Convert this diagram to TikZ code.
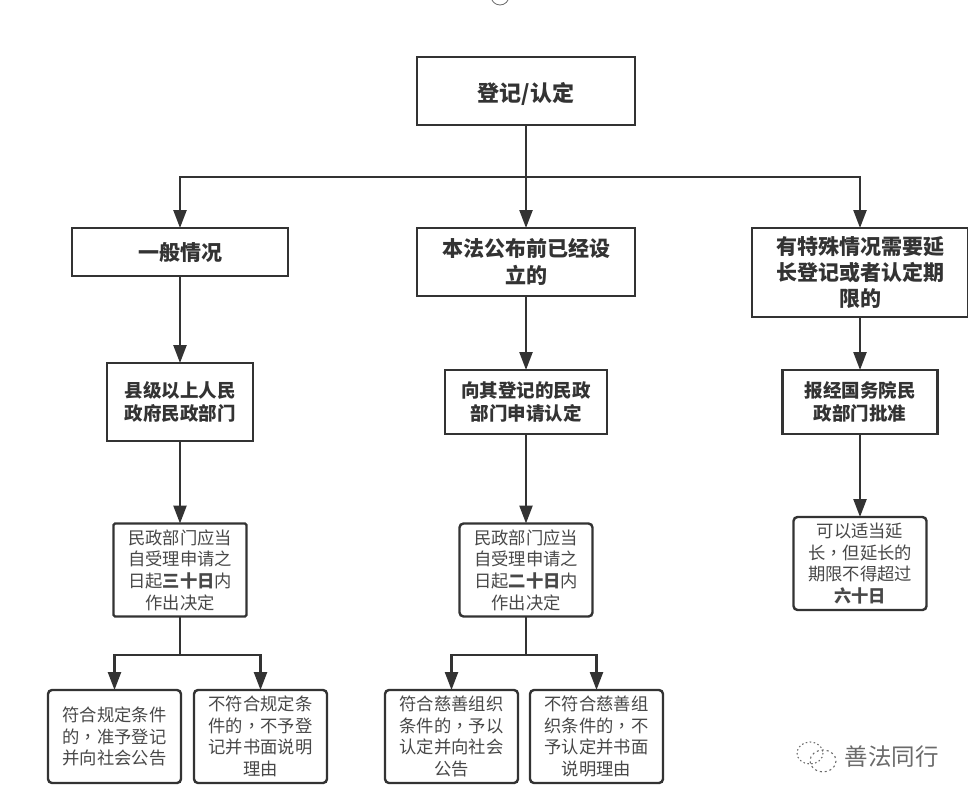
\documentclass[tikz,border=0pt]{standalone}
\usepackage{fontspec}
\setmainfont{Noto Sans CJK SC}
\newfontfamily\tcfont{Noto Sans CJK TC}
\newcommand\cm{{\tcfont ，}}
\usetikzlibrary{arrows.meta}
\definecolor{ink}{HTML}{333333}
\definecolor{txt}{HTML}{484848}
\definecolor{wmgray}{HTML}{6A6A6A}
\tikzset{
  box/.style={draw=ink,line width=2.4pt,fill=white,align=center,inner sep=0pt,outer sep=0pt,text=ink},
  head/.style={box,font=\fontsize{21}{26.3}\selectfont\bfseries},
  mid/.style={box,font=\fontsize{18.5}{22.8}\selectfont\bfseries},
  leaf/.style={box,rounded corners=4pt,text=txt,minimum width=133pt,minimum height=93pt,font=\fontsize{17.3}{21.7}\selectfont,execute at begin node={\vspace*{2pt}}},
  link/.style={draw=ink,line width=2.4pt},
  arrow/.style={link,-{Triangle[length=18pt,width=13pt]}}
}
\begin{document}
\begin{tikzpicture}[x=1pt,y=-1pt]
\useasboundingbox (0,0) rectangle (968,800);
\clip (0,0) rectangle (968,800);
\draw[wmgray,line width=0.8pt] (500,-4) circle (9);
\node[head,minimum width=218pt,minimum height=68pt] (top) at (526,91) {\raisebox{-3pt}[\height][\depth]{\fontsize{22}{26}\selectfont 登记/认定}};
\node[head,minimum width=216pt,minimum height=48pt] (a) at (180,252) {一般情况};
\node[head,minimum width=218pt,minimum height=68pt] (b) at (526,262) {本法公布前已经设\\立的};
\node[head,minimum width=216pt,minimum height=89pt] (c) at (860,272.5) {有特殊情况需要延\\长登记或者认定期\\限的};
\node[mid,minimum width=146pt,minimum height=78pt] (a2) at (180,402) {县级以上人民\\政府民政部门};
\node[mid,minimum width=162pt,minimum height=64pt] (b2) at (526,402) {向其登记的民政\\部门申请认定};
\node[mid,minimum width=155pt,minimum height=64pt] (c2) at (860,402) {报经国务院民\\政部门批准};
\node[leaf,rounded corners=1.5pt] (a3) at (180,570) {民政部门应当\\自受理申请之\\日起\textbf{三十日}内\\作出决定};
\node[leaf] (b3) at (526,570) {民政部门应当\\自受理申请之\\日起\textbf{二十日}内\\作出决定};
\node[leaf] (c3) at (860,563.5) {可以适当延\\长\cm 但延长的\\期限不得超过\\\textbf{六十日}};
\node[leaf] (l1) at (114.5,736.5) {符合规定条件\\的\cm 准予登记\\并向社会公告};
\node[leaf] (l2) at (260.5,736.5) {不符合规定条\\件的\cm 不予登\\记并书面说明\\理由};
\node[leaf] (l3) at (451.5,736.5) {符合慈善组织\\条件的\cm 予以\\认定并向社会\\公告};
\node[leaf] (l4) at (596.5,736.5) {不符合慈善组\\织条件的\cm 不\\予认定并书面\\说明理由};
\coordinate (busA) at (526,177);
\coordinate (busB) at (180,655);
\coordinate (busC) at (526,655);
\draw[link] (top.south) -- (busA);
\draw[arrow] (busA) -| (a.north);
\draw[arrow] (busA) -- (b.north);
\draw[arrow] (busA) -| (c.north);
\draw[arrow] (a.south) -- (a2.north);
\draw[arrow] (b.south) -- (b2.north);
\draw[arrow] (c.south) -- (c2.north);
\draw[arrow] (a2.south) -- (a3.north);
\draw[arrow] (b2.south) -- (b3.north);
\draw[arrow] (c2.south) -- (c3.north);
\draw[link] (a3.south) -- (busB);
\draw[arrow] (busB) -| (l1.north);
\draw[arrow] (busB) -| (l2.north);
\draw[link] (b3.south) -- (busC);
\draw[arrow] (busC) -| (l3.north);
\draw[arrow] (busC) -| (l4.north);
\draw[wmgray,line width=1.1pt,dash pattern=on 1.5pt off 2.5pt] (810,753) ellipse (13 and 11);
\draw[wmgray,line width=1.1pt,dash pattern=on 2pt off 3pt] (823,761) ellipse (13 and 11);
\node[text=wmgray,font=\fontsize{23.5}{26}\selectfont,inner sep=0pt] (wm) at (891.5,757) {善法同行};
\end{tikzpicture}
\end{document}
